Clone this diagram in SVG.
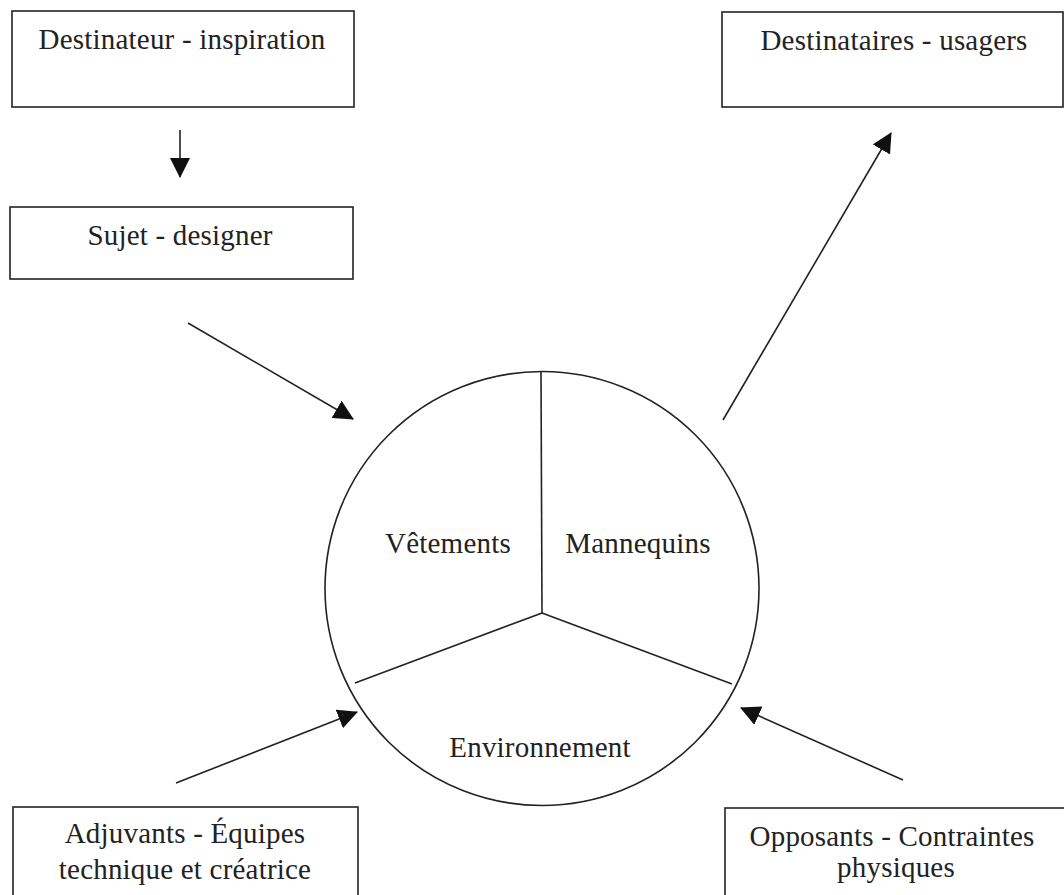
<svg xmlns="http://www.w3.org/2000/svg" width="1064" height="895" viewBox="0 0 1064 895">
<style>
.box{fill:#fff;stroke:#222;stroke-width:1.6}
.t{font-family:"Liberation Serif","Times New Roman",serif;font-size:29px;fill:#222;text-anchor:middle;letter-spacing:0.2px}
.ln{stroke:#222;stroke-width:1.6;fill:none}
</style>
<defs>
<marker id="ah" markerUnits="userSpaceOnUse" viewBox="0 0 20 20" markerWidth="20" markerHeight="20" refX="19" refY="10" orient="auto">
<path d="M0,0 L20,10 L0,20 z" fill="#111"/>
</marker>
</defs>
<rect width="1064" height="895" fill="#fff"/>
<g id="destinateur">
<rect class="box" x="12" y="11" width="342" height="96"/>
<text class="t" x="182" y="49">Destinateur - inspiration</text>
</g>
<g id="sujet">
<rect class="box" x="10" y="207" width="343" height="72"/>
<text class="t" x="180" y="245">Sujet - designer</text>
</g>
<g id="destinataires">
<rect class="box" x="722" y="12" width="341" height="95"/>
<text class="t" x="894" y="50">Destinataires - usagers</text>
</g>
<g id="adjuvants">
<rect class="box" x="13" y="807" width="345" height="100"/>
<text class="t" x="185" y="843">Adjuvants - Équipes</text>
<text class="t" x="185" y="879">technique et créatrice</text>
</g>
<g id="opposants">
<rect class="box" x="725" y="808" width="345" height="100"/>
<text class="t" x="892" y="846">Opposants - Contraintes</text>
<text class="t" x="896" y="877">physiques</text>
</g>
<g id="cercle">
<circle class="ln" cx="542" cy="588.5" r="217"/>
<line class="ln" x1="541" y1="372" x2="542" y2="613"/>
<line class="ln" x1="542" y1="613" x2="355" y2="683"/>
<line class="ln" x1="542" y1="613" x2="732" y2="684"/>
<text class="t" x="448" y="553">Vêtements</text>
<text class="t" x="638" y="553">Mannequins</text>
<text class="t" x="540" y="757">Environnement</text>
</g>
<g id="connecteurs">
<line class="ln" x1="180" y1="130" x2="180" y2="177" marker-end="url(#ah)"/>
<line class="ln" x1="188" y1="323" x2="353" y2="419" marker-end="url(#ah)"/>
<line class="ln" x1="723" y1="420" x2="891" y2="133" marker-end="url(#ah)"/>
<line class="ln" x1="176" y1="783" x2="357" y2="712" marker-end="url(#ah)"/>
<line class="ln" x1="903" y1="780" x2="741" y2="708" marker-end="url(#ah)"/>
</g>
</svg>
